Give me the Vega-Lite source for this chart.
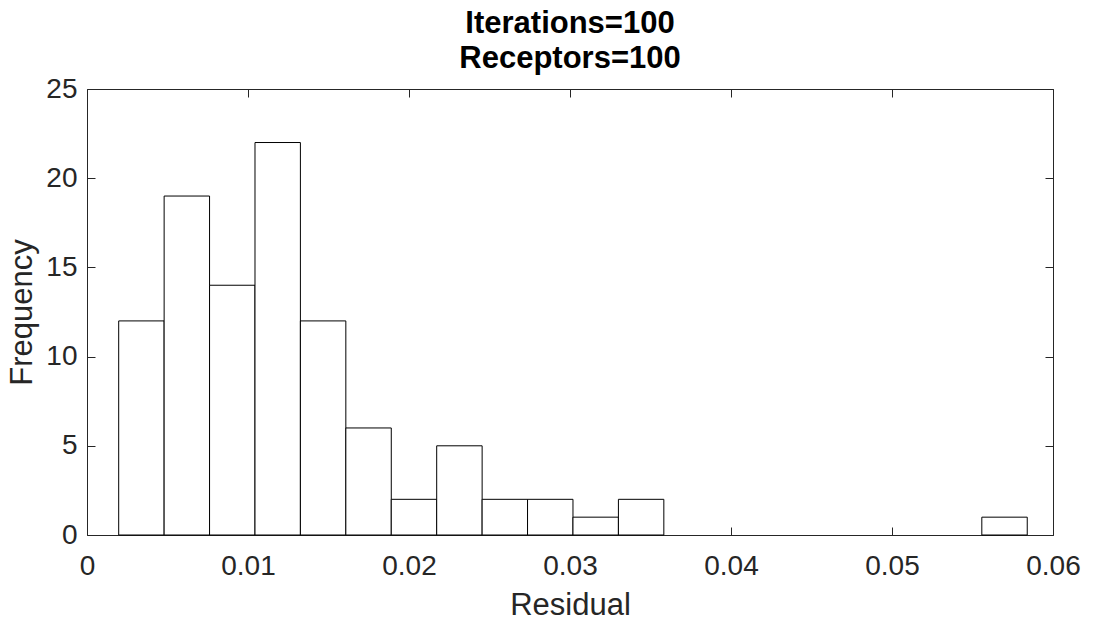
{
  "$schema": "https://vega.github.io/schema/vega-lite/v6.json",
  "width": 966,
  "height": 446,
  "autosize": {"type": "none"},
  "padding": {"left": 87, "top": 89, "right": 41, "bottom": 91},
  "background": "white",
  "title": {
    "text": ["Iterations=100", "Receptors=100"],
    "font": "Liberation Sans",
    "fontSize": 31,
    "fontWeight": "bold",
    "color": "#000000",
    "lineHeight": 35,
    "baseline": "alphabetic",
    "offset": -24,
    "anchor": "middle",
    "frame": "group"
  },
  "data": {
    "values": [
      {"start": 0.001969, "end": 0.004791, "count": 12},
      {"start": 0.004791, "end": 0.007612, "count": 19},
      {"start": 0.007612, "end": 0.010434, "count": 14},
      {"start": 0.010434, "end": 0.013255, "count": 22},
      {"start": 0.013255, "end": 0.016077, "count": 12},
      {"start": 0.016077, "end": 0.018899, "count": 6},
      {"start": 0.018899, "end": 0.02172, "count": 2},
      {"start": 0.02172, "end": 0.024542, "count": 5},
      {"start": 0.024542, "end": 0.027363, "count": 2},
      {"start": 0.027363, "end": 0.030185, "count": 2},
      {"start": 0.030185, "end": 0.033007, "count": 1},
      {"start": 0.033007, "end": 0.035828, "count": 2},
      {"start": 0.055579, "end": 0.0584, "count": 1}
    ]
  },
  "config": {
    "view": {"stroke": null},
    "axis": {
      "domainColor": "#262626",
      "domainWidth": 1,
      "tickColor": "#262626",
      "tickWidth": 1,
      "tickSize": -8,
      "grid": false,
      "labelFont": "Liberation Sans",
      "labelFontSize": 28,
      "labelColor": "#262626",
      "titleFont": "Liberation Sans",
      "titleFontSize": 31,
      "titleFontWeight": "normal",
      "titleColor": "#262626"
    }
  },
  "layer": [
    {
      "mark": {"type": "rect", "fill": "white", "stroke": "#000000", "strokeWidth": 1},
      "encoding": {
        "x": {
          "field": "start",
          "type": "quantitative",
          "scale": {"domain": [0, 0.06], "nice": false, "zero": false},
          "axis": {
            "orient": "bottom",
            "values": [0, 0.01, 0.02, 0.03, 0.04, 0.05, 0.06],
            "format": "~g",
            "labelPadding": 25,
            "labelFlush": false,
            "title": "Residual",
            "titlePadding": 10
          }
        },
        "x2": {"field": "end"},
        "y": {
          "field": "count",
          "type": "quantitative",
          "scale": {"domain": [0, 25], "nice": false},
          "axis": {
            "orient": "left",
            "values": [0, 5, 10, 15, 20, 25],
            "labelPadding": 18,
            "labelFlush": false,
            "title": "Frequency",
            "titlePadding": 7
          }
        },
        "y2": {"datum": 0}
      }
    },
    {
      "mark": {"type": "rect", "opacity": 0},
      "encoding": {
        "x": {
          "field": "start",
          "type": "quantitative",
          "axis": {
            "orient": "top",
            "values": [0, 0.01, 0.02, 0.03, 0.04, 0.05, 0.06],
            "labels": false,
            "title": null
          }
        },
        "x2": {"field": "end"},
        "y": {
          "field": "count",
          "type": "quantitative",
          "axis": {
            "orient": "right",
            "values": [0, 5, 10, 15, 20, 25],
            "labels": false,
            "title": null
          }
        },
        "y2": {"datum": 0}
      }
    }
  ]
}
